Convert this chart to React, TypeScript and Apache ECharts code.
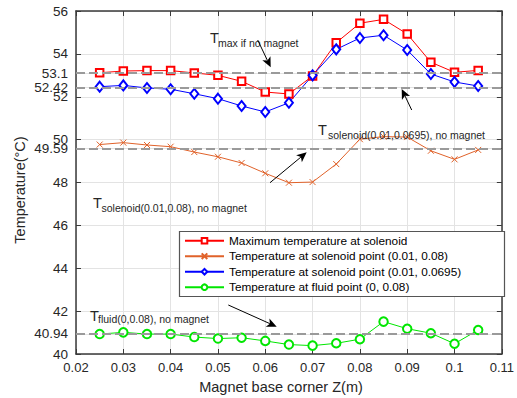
import React, { useEffect, useRef } from 'react';
import * as echarts from 'echarts';

const zPositions = [0.025, 0.03, 0.035, 0.04, 0.045, 0.05, 0.055, 0.06, 0.065, 0.07, 0.075, 0.08, 0.085, 0.09, 0.095, 0.1, 0.105];
const maxTemp = [53.12, 53.2, 53.22, 53.22, 53.11, 53.0, 52.72, 52.22, 52.13, 52.97, 54.52, 55.43, 55.61, 54.93, 53.61, 53.14, 53.23];
const solenoidPt008 = [49.77, 49.86, 49.75, 49.67, 49.42, 49.2, 48.91, 48.43, 47.99, 48.02, 48.86, 50.02, 50.14, 50.12, 49.48, 49.08, 49.52];
const solenoidPt00695 = [52.47, 52.53, 52.41, 52.35, 52.14, 51.91, 51.57, 51.29, 51.72, 53.0, 54.21, 54.74, 54.87, 54.18, 53.06, 52.69, 52.5];
const fluidPt = [40.93, 41.01, 40.93, 40.93, 40.79, 40.72, 40.76, 40.61, 40.44, 40.39, 40.5, 40.69, 41.51, 41.18, 40.97, 40.48, 41.12];
const noMagnetRefs = [53.1, 52.42, 49.59, 40.94];
const yTickValues = [40, 40.94, 42, 44, 46, 48, 49.59, 50, 52, 52.42, 53.1, 54, 56];
const seriesNames = [
  'Maximum temperature at solenoid',
  'Temperature at solenoid point (0.01, 0.08)',
  'Temperature at solenoid point (0.01, 0.0695)',
  'Temperature at fluid point (0, 0.08)',
];

const FONT = '"Liberation Sans", Arial, Helvetica, sans-serif';
const AXIS_COLOR = '#3a3a3a';
const TEXT_COLOR = '#262626';

function pair(ys: number[]) {
  return zPositions.map((z, i) => [z, ys[i]]);
}

function arrow(x1: number, y1: number, x2: number, y2: number) {
  const dx = x2 - x1, dy = y2 - y1;
  const len = Math.hypot(dx, dy);
  const ux = dx / len, uy = dy / len;
  const px = -uy, py = ux;
  const headLen = 10, halfW = 4.5, notch = 2.5;
  const bx = x2 - ux * headLen, by = y2 - uy * headLen;
  const nx = x2 - ux * (headLen - notch), ny = y2 - uy * (headLen - notch);
  return [
    { type: 'line', z: 5, shape: { x1, y1, x2: nx, y2: ny }, style: { stroke: '#000', lineWidth: 1 }, silent: true },
    {
      type: 'polygon', z: 5,
      shape: { points: [[x2, y2], [bx + px * halfW, by + py * halfW], [nx, ny], [bx - px * halfW, by - py * halfW]] },
      style: { fill: '#000' },
      silent: true,
    },
  ];
}

function annot(x: number, yT: number, subX: number, subY: number, sub: string) {
  return [
    { type: 'text', z: 5, x, y: yT, style: { text: 'T', font: `14.5px ${FONT}`, fill: TEXT_COLOR, textBaseline: 'alphabetic' }, silent: true },
    { type: 'text', z: 5, x: subX, y: subY, style: { text: sub, font: `10.5px ${FONT}`, fill: TEXT_COLOR, textBaseline: 'alphabetic' }, silent: true },
  ];
}

export default function App() {
  const ref = useRef<HTMLDivElement>(null);
  useEffect(() => {
    document.body.style.margin = '0';
    const chart = echarts.init(ref.current!, null, { renderer: 'svg' });
    const fmtX = (v: number) => String(Math.round(v * 100) / 100);
    const mk = (color: string, symbol: string, size: any, extra: any = {}) => ({
      type: 'line',
      xAxisIndex: 0,
      yAxisIndex: 0,
      symbol,
      symbolSize: size,
      showAllSymbol: true,
      lineStyle: { color, width: 1 },
      itemStyle: { color, borderColor: color, borderWidth: 1 },
      emphasis: { disabled: true },
      ...extra,
    });
    chart.setOption({
      animation: false,
      textStyle: { fontFamily: FONT },
      grid: { left: 76, right: 8, top: 11, bottom: 44, containLabel: false },
      legend: {
        data: seriesNames,
        orient: 'vertical',
        left: 184,
        top: 234.7,
        itemWidth: 39,
        itemHeight: 7,
        itemGap: 3.5,
        padding: 0,
        z: 6,
        textStyle: { fontSize: 11.8, color: '#000', fontFamily: FONT, lineHeight: 12 },
        selectedMode: false,
      },
      xAxis: [
        {
          type: 'value', min: 0.02, max: 0.11, interval: 0.01, position: 'bottom',
          axisLine: { show: true, onZero: false, lineStyle: { color: AXIS_COLOR, width: 1.5 } },
          axisTick: { show: true, inside: true, length: 5, lineStyle: { color: AXIS_COLOR } },
          axisLabel: { formatter: fmtX, fontSize: 13, color: TEXT_COLOR, margin: 7, fontFamily: FONT },
          splitLine: { show: true, lineStyle: { color: '#e3e3e3', width: 1 } },
        },
        {
          type: 'value', min: 0.02, max: 0.11, interval: 0.01, position: 'top',
          axisLine: { show: true, onZero: false, lineStyle: { color: AXIS_COLOR, width: 1.5 } },
          axisTick: { show: true, inside: true, length: 5, lineStyle: { color: AXIS_COLOR } },
          axisLabel: { show: false },
          splitLine: { show: false },
        },
      ],
      yAxis: [
        {
          type: 'value', min: 40, max: 56, interval: 2, position: 'left',
          axisLine: { show: true, onZero: false, lineStyle: { color: AXIS_COLOR, width: 1.5 } },
          axisTick: { show: true, inside: true, length: 5, customValues: yTickValues, lineStyle: { color: AXIS_COLOR } },
          axisLabel: { customValues: yTickValues, formatter: (v: number) => String(v), fontSize: 13.5, color: TEXT_COLOR, margin: 8, fontFamily: FONT },
          splitLine: { show: true, lineStyle: { color: '#e3e3e3', width: 1 } },
        },
        {
          type: 'value', min: 40, max: 56, interval: 2, position: 'right',
          axisLine: { show: true, onZero: false, lineStyle: { color: AXIS_COLOR, width: 1.5 } },
          axisTick: { show: true, inside: true, length: 5, customValues: yTickValues, lineStyle: { color: AXIS_COLOR } },
          axisLabel: { show: false },
          splitLine: { show: false },
        },
      ],
      series: [
        {
          type: 'line',
          name: 'refs',
          data: [],
          xAxisIndex: 0,
          yAxisIndex: 0,
          markLine: {
            silent: true,
            symbol: ['none', 'none'],
            label: { show: false },
            lineStyle: { type: [9, 4], color: '#9a9a9a', width: 1.8 },
            data: noMagnetRefs.map((v) => ({ yAxis: v })),
          },
        },
        mk('#ff0000', 'emptyRect', 7.5, { name: seriesNames[0], data: pair(maxTemp) }),
        mk('#e0622a', 'path://M0,0L10,10M10,0L0,10', 6, { name: seriesNames[1], data: pair(solenoidPt008) }),
        mk('#0000ff', 'emptyDiamond', [8, 10], { name: seriesNames[2], data: pair(solenoidPt00695) }),
        mk('#00e600', 'emptyCircle', 8.5, { name: seriesNames[3], data: pair(fluidPt) }),
      ],
      graphic: [
        {
          type: 'rect', z: 4, silent: true,
          shape: { x: 179.5, y: 231.5, width: 325, height: 65 },
          style: { fill: '#fff', stroke: '#555', lineWidth: 1.2 },
        },
        ...annot(210, 30, 218, 37, 'max if no magnet'),
        ...arrow(257.7, 40, 270.7, 67.3),
        ...annot(318, 122, 328, 129, 'solenoid(0.01,0.0695), no magnet'),
        ...arrow(411.7, 110, 401.7, 89),
        ...annot(93, 195, 101.5, 202, 'solenoid(0.01,0.08), no magnet'),
        ...arrow(270, 182.7, 306.7, 152.3),
        ...annot(90, 308, 98, 313.5, 'fluid(0,0.08), no magnet'),
        ...arrow(228.3, 305, 276.7, 326.7),
        {
          type: 'text', x: 281, y: 387,
          style: { text: 'Magnet base corner Z(m)', font: `14.5px ${FONT}`, fill: TEXT_COLOR, textAlign: 'center', textVerticalAlign: 'middle' },
          silent: true,
        },
        {
          type: 'text', x: 20, y: 190, rotation: Math.PI / 2,
          style: { text: 'Temperature(°C)', font: `14.5px ${FONT}`, fill: TEXT_COLOR, textAlign: 'center', textVerticalAlign: 'middle' },
          silent: true,
        },
      ],
    });
    return () => chart.dispose();
  }, []);
  return <div ref={ref} style={{ position: 'absolute', left: 0, top: 0, width: 517, height: 398 }} />;
}
